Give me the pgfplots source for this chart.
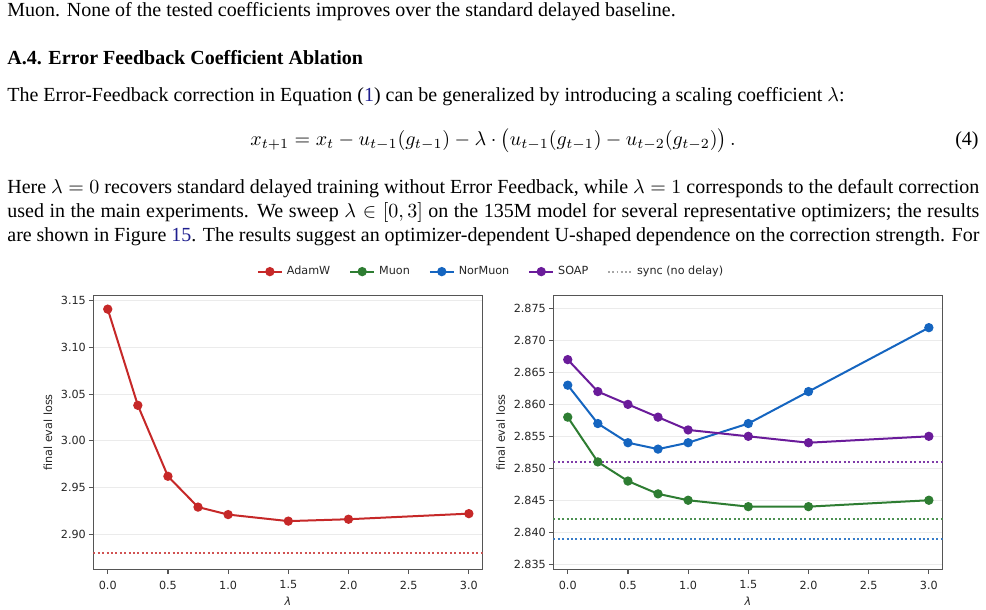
\documentclass[border=0pt]{standalone}
\usepackage[no-math]{fontspec}
\setmainfont{Liberation Serif}
\newfontfamily\dejavu{DejaVu Sans}
\usepackage{pgfplots}
\pgfplotsset{compat=1.18}
\definecolor{cAdam}{HTML}{C62828}
\definecolor{cMuon}{HTML}{2E7D32}
\definecolor{cNor}{HTML}{1565C0}
\definecolor{cSoap}{HTML}{6A1B9A}
\definecolor{linkblue}{HTML}{1F1F8F}
\definecolor{framegray}{HTML}{555555}
\definecolor{gridgray}{HTML}{EBEBEB}
\newcommand{\chartfont}{\dejavu\fontsize{5.6}{6.5}\selectfont}
\pgfplotsset{
 myax/.style={
  scale only axis, width=194.7pt, height=136.8pt,
  xmin=-0.12, xmax=3.115,
  xtick={0,0.5,1,1.5,2,2.5,3},
  axis line style={framegray, line width=0.6pt},
  tick style={framegray, line width=0.6pt},
  major tick length=2.2pt, tick align=outside,
  xtick pos=bottom, ytick pos=left,
  ymajorgrids, grid style={gridgray, line width=0.5pt},
  tick label style={font=\chartfont, text=black!85},
  label style={font=\chartfont, text=black!85},
  /pgf/number format/assume math mode=true,
  x tick label style={/pgf/number format/fixed, /pgf/number format/fixed zerofill, /pgf/number format/precision=1},
  y tick label style={xshift=2pt},
  ylabel shift=-2.5pt,
  xlabel shift=-3pt,
  xlabel={\itshape λ},
  ylabel={final eval loss},
  every axis plot/.append style={line width=1pt, mark=*, mark size=1.8pt, mark options={solid}},
 },
 syncline/.style={line width=1pt, dash pattern=on 1pt off 1.2pt, no markers, forget plot},
}
\begin{document}
\begin{tikzpicture}
\path[use as bounding box, fill=white] (0,0) rectangle (493pt,305pt);
% text
\node[anchor=base west, inner sep=0] at (3.5pt,296.65pt) {Muon. None of the tested coefficients improves over the standard delayed baseline.};
\node[anchor=base west, inner sep=0] at (3.5pt,272.85pt) {\bfseries A.4. Error Feedback Coefficient Ablation};
\node[anchor=base west, inner sep=0] at (3.5pt,254.15pt) {The Error-Feedback correction in Equation (\textcolor{linkblue}{1}) can be generalized by introducing a scaling coefficient $\lambda$:};
\node[anchor=base, inner sep=0] at (246.5pt,232pt) {$x_{t+1} = x_t - u_{t-1}(g_{t-1}) - \lambda\cdot\big(u_{t-1}(g_{t-1}) - u_{t-2}(g_{t-2})\big)\,.$};
\node[anchor=base east, inner sep=0] at (489.5pt,232pt) {(4)};
\node[anchor=base west, inner sep=0] at (3.5pt,208pt) {\hbox to 486pt{Here $\lambda=0$ recovers standard delayed training without Error Feedback, while $\lambda=1$ corresponds to the default correction}};
\node[anchor=base west, inner sep=0] at (3.5pt,196pt) {\hbox to 486pt{used in the main experiments. We sweep $\lambda\in[0,3]$ on the 135M model for several representative optimizers; the results}};
\node[anchor=base west, inner sep=0] at (3.5pt,184pt) {\hbox to 486pt{are shown in Figure \textcolor{linkblue}{15}. The results suggest an optimizer-dependent U-shaped dependence on the correction strength. For}};

% left axis
\begin{axis}[myax, at={(46.65pt,20.35pt)}, anchor=south west,
  ymin=2.8624, ymax=3.1554,
  ytick={2.90,2.95,3.00,3.05,3.10,3.15},
  y tick label style={/pgf/number format/fixed, /pgf/number format/fixed zerofill, /pgf/number format/precision=2},
  legend columns=5,
  legend style={at={(1.024,1.088)}, anchor=center, draw=none, fill=none, font=\chartfont, text=black!85,
    /tikz/every even column/.append style={column sep=7.5pt}},
  legend image code/.code={\draw[mark repeat=2,mark phase=2,#1] plot coordinates {(0cm,0cm) (0.21cm,0cm) (0.42cm,0cm)};},
]
\addplot[cAdam] coordinates {(0,3.141) (0.25,3.038) (0.5,2.962) (0.75,2.929) (1.0,2.921) (1.5,2.914) (2.0,2.916) (3.0,2.922)};
\addlegendentry{AdamW}
\addplot[cAdam!80, syncline] coordinates {(-0.12,2.880) (3.115,2.880)};
\addlegendimage{cMuon, line width=1pt, mark=*, mark size=1.8pt}
\addlegendentry{Muon}
\addlegendimage{cNor, line width=1pt, mark=*, mark size=1.8pt}
\addlegendentry{NorMuon}
\addlegendimage{cSoap, line width=1pt, mark=*, mark size=1.8pt}
\addlegendentry{SOAP}
\addlegendimage{gray!70, line width=0.9pt, dash pattern=on 0.9pt off 1.2pt, no markers}
\addlegendentry{sync (no delay)}
\end{axis}

% right axis
\begin{axis}[myax, at={(276.65pt,20.35pt)}, anchor=south west,
  ymin=2.8342, ymax=2.877,
  ytick={2.835,2.840,2.845,2.850,2.855,2.860,2.865,2.870,2.875},
  y tick label style={/pgf/number format/fixed, /pgf/number format/fixed zerofill, /pgf/number format/precision=3},
]
\addplot[cSoap!85, syncline] coordinates {(-0.12,2.851) (3.115,2.851)};
\addplot[cMuon!85, syncline] coordinates {(-0.12,2.842) (3.115,2.842)};
\addplot[cNor!85, syncline] coordinates {(-0.12,2.839) (3.115,2.839)};
\addplot[cMuon] coordinates {(0,2.858) (0.25,2.851) (0.5,2.848) (0.75,2.846) (1.0,2.845) (1.5,2.844) (2.0,2.844) (3.0,2.845)};
\addplot[cNor] coordinates {(0,2.863) (0.25,2.857) (0.5,2.854) (0.75,2.853) (1.0,2.854) (1.5,2.857) (2.0,2.862) (3.0,2.872)};
\addplot[cSoap] coordinates {(0,2.867) (0.25,2.862) (0.5,2.860) (0.75,2.858) (1.0,2.856) (1.5,2.855) (2.0,2.854) (3.0,2.855)};
\end{axis}
\end{tikzpicture}
\end{document}
